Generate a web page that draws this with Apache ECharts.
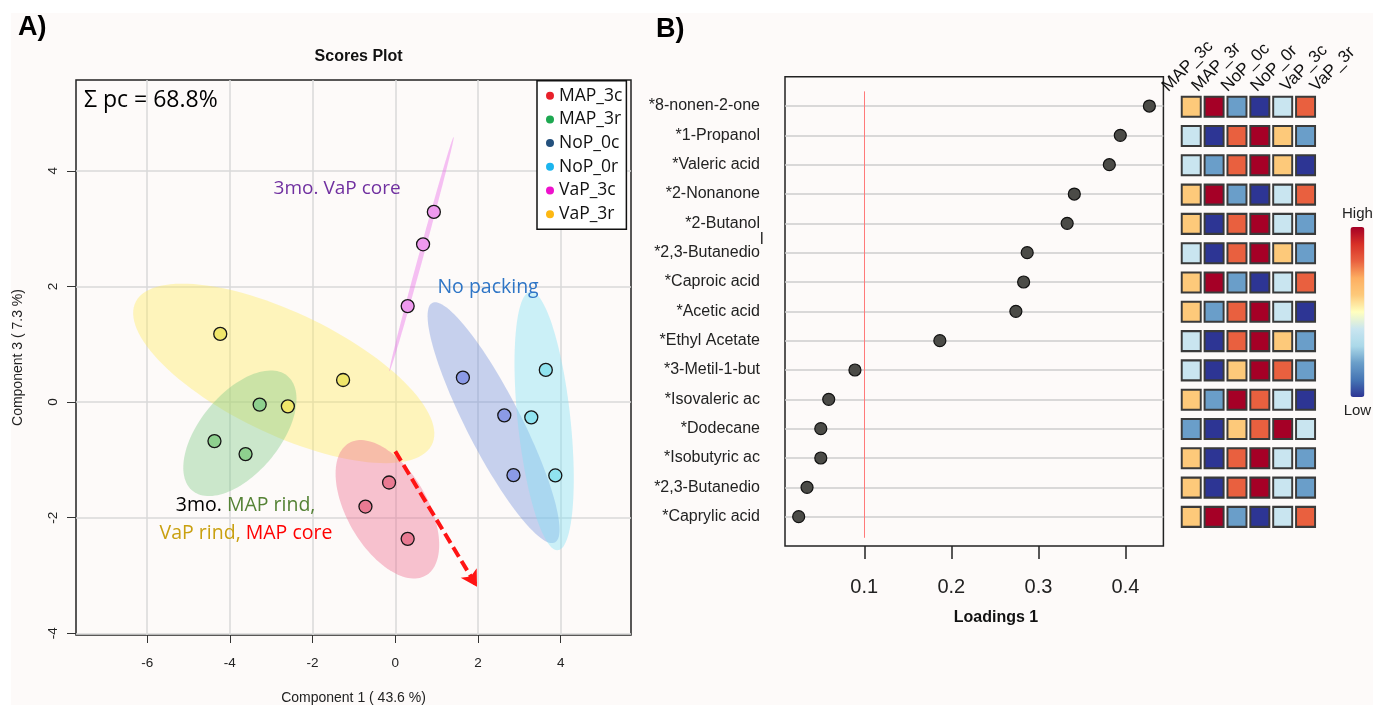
<!DOCTYPE html>
<html><head><meta charset="utf-8">
<script src="https://cdn.jsdelivr.net/npm/echarts@6/dist/echarts.min.js"></script>
<style>html,body{margin:0;padding:0;background:#fff}#c{width:1373px;height:705px}</style>
</head><body><div id="c"></div>
<script>
// ---------- DATA ----------
const groups = ['MAP_3c','MAP_3r','NoP_0c','NoP_0r','VaP_3c','VaP_3r'];
const MAP_3c = [[-0.150,-1.392],[-0.721,-1.808],[0.300,-2.367]];
const MAP_3r = [[-3.279,-0.045],[-4.372,-0.676],[-3.620,-0.901]];
const NoP_0c = [[1.635,0.423],[2.636,-0.231],[2.858,-1.265]];
const NoP_0r = [[3.640,0.555],[3.289,-0.265],[3.870,-1.270]];
const VaP_3c = [[0.933,3.288],[0.672,2.728],[0.300,1.659]];
const VaP_3r = [[-4.232,1.178],[-1.262,0.381],[-2.597,-0.075]];
const scoreTicksX = [-6,-4,-2,0,2,4];
const scoreTicksY = [-4,-2,0,2,4];
const arrowFrom = [0,-0.854];
const arrowTo = [1.976,-3.194];

const compounds = ['*8-nonen-2-one','*1-Propanol','*Valeric acid','*2-Nonanone','*2-Butanol','*2,3-Butanedio','*Caproic acid','*Acetic acid','*Ethyl Acetate','*3-Metil-1-but','*Isovaleric ac','*Dodecane','*Isobutyric ac','*2,3-Butanedio','*Caprylic acid'];
const loadings = [0.4274,0.394,0.3814,0.3412,0.333,0.2871,0.283,0.2741,0.1868,0.0893,0.0592,0.0501,0.0501,0.0343,0.0247];
const loadingTicks = [0.1,0.2,0.3,0.4];
const cutoff = 0.1;
// heat levels (1 = low ... 6 = high), rows = compounds, cols = groups
const heatLevels = [
 [4,6,2,1,3,5],
 [3,1,5,6,4,2],
 [3,2,5,6,4,1],
 [4,6,2,1,3,5],
 [4,1,5,6,3,2],
 [3,1,5,6,4,2],
 [4,6,2,1,3,5],
 [4,2,5,6,3,1],
 [3,1,5,6,4,2],
 [3,1,4,6,5,2],
 [4,2,6,5,3,1],
 [2,1,4,5,6,3],
 [4,1,5,6,3,2],
 [4,1,5,6,3,2],
 [4,6,2,1,3,5]
];

// ---------- STYLE ----------
const groupPts = {MAP_3c, MAP_3r, NoP_0c, NoP_0r, VaP_3c, VaP_3r};
const pointColor = {MAP_3c:'#E97A92', MAP_3r:'#8ED08E', NoP_0c:'#8B9AE6', NoP_0r:'#90E4F0', VaP_3c:'#EE99EE', VaP_3r:'#F0E66A'};
const ellColor = {MAP_3c:'rgba(238,107,143,0.4)', MAP_3r:'rgba(128,202,136,0.4)', NoP_0c:'rgba(115,145,221,0.4)', NoP_0r:'rgba(128,225,246,0.4)', VaP_3c:'rgba(233,110,234,0.42)', VaP_3r:'rgba(255,235,94,0.4)'};
const legendColor = {MAP_3c:'#E8202A', MAP_3r:'#1DA851', NoP_0c:'#24517D', NoP_0r:'#1BB5EE', VaP_3c:'#EE11CC', VaP_3r:'#FDB813'};
const ellOrder = ['VaP_3r','MAP_3r','MAP_3c','VaP_3c','NoP_0c','NoP_0r'];
const heatColors = ['#2D3594','#4575b4','#6A9EC9','#abd9e9','#C9E5F0','#ffffbf','#FDC97A','#fdae61','#E9603F','#d73027','#A50026'];
const SANS = 'Liberation Sans, Arial, sans-serif';
const CAL = 'Open Sans, Noto Sans, sans-serif';

// 95% data ellipse (chi-square, 2 df)
function ellipse(pts){
  const n = pts.length;
  const mx = pts.reduce((s,p)=>s+p[0],0)/n, my = pts.reduce((s,p)=>s+p[1],0)/n;
  let sxx=0, syy=0, sxy=0;
  pts.forEach(p=>{ sxx+=(p[0]-mx)**2; syy+=(p[1]-my)**2; sxy+=(p[0]-mx)*(p[1]-my); });
  sxx/=(n-1); syy/=(n-1); sxy/=(n-1);
  const tr = sxx+syy, det = sxx*syy-sxy*sxy;
  const d = Math.sqrt(Math.max(tr*tr/4-det,0));
  const l1 = tr/2+d, l2 = Math.max(tr/2-d,0);
  const ang = Math.abs(sxy)<1e-12 ? (sxx>=syy?0:Math.PI/2) : Math.atan2(l1-sxx, sxy);
  const k = Math.sqrt(5.991);
  const a = k*Math.sqrt(l1), b = k*Math.sqrt(l2);
  const out = [];
  for(let i=0;i<=120;i++){
    const t = i/120*2*Math.PI;
    out.push([mx + a*Math.cos(t)*Math.cos(ang) - b*Math.sin(t)*Math.sin(ang),
              my + a*Math.cos(t)*Math.sin(ang) + b*Math.sin(t)*Math.cos(ang)]);
  }
  return out;
}
const ellipses = ellOrder.map(g=>ellipse(groupPts[g]));

const nRows = compounds.length;
const rowPos = compounds.map((_,i)=>nRows-i);

const chart = echarts.init(document.getElementById('c'), null, {renderer:'canvas'});

const series = [];
series.push({
  type:'custom', name:'ellipses', xAxisIndex:0, yAxisIndex:0, z:1, silent:true, clip:true,
  data: ellOrder.map((g,i)=>[i,0]),
  renderItem:(params, api)=>{
    const gi = params.dataIndex;
    const pts = ellipses[gi].map(p=>api.coord(p));
    return {type:'polygon', shape:{points:pts}, style:{fill:ellColor[ellOrder[gi]], stroke:null}};
  },
  markLine:{
    silent:true, animation:false, symbol:['none','arrow'], symbolSize:[14,16],
    label:{show:false},
    lineStyle:{color:'#FF1414', width:4, type:[11,5]},
    data:[[{coord:arrowFrom},{coord:arrowTo}]]
  }
});
groups.forEach(g=>{
  series.push({
    type:'scatter', name:g, xAxisIndex:0, yAxisIndex:0, z:3,
    symbol:'circle', symbolSize:13,
    itemStyle:{color:pointColor[g], borderColor:'#151515', borderWidth:1.3, opacity:1},
    data: groupPts[g]
  });
});
series.push({
  type:'scatter', name:'loadings', xAxisIndex:1, yAxisIndex:1, z:3,
  symbol:'circle', symbolSize:12,
  itemStyle:{color:'#4B4B47', borderColor:'#111', borderWidth:1.2, opacity:1},
  data: loadings.map((v,i)=>[v,rowPos[i]]),
  markLine:{
    silent:true, animation:false, symbol:'none', label:{show:false},
    lineStyle:{color:'#FF7A7A', width:1, type:'solid'},
    data:[[{coord:[cutoff,0.28]},{coord:[cutoff,nRows+0.5]}]]
  }
});
const heatData = [];
heatLevels.forEach((row,ri)=>row.forEach((v,ci)=>heatData.push([ci,ri,v])));
series.push({
  type:'scatter', name:'heat', xAxisIndex:2, yAxisIndex:2, z:3,
  symbol:'rect', symbolSize:[19,20],
  itemStyle:{borderColor:'#3A3A3A', borderWidth:2, opacity:1},
  data: heatData
});
const heatIndex = series.length-1;

const colLabelGraphics = groups.map((g,i)=>({
  type:'text', x:1171+i*29.6, y:95, rotation:Math.PI/4,
  style:{text:g, font:'17px '+SANS, fill:'#111', textAlign:'left', textVerticalAlign:'bottom'}
}));

const option = {
  animation:false,
  backgroundColor:'#FFFFFF',
  textStyle:{fontFamily:SANS},
  title:{text:'Scores Plot', left:353.6, top:44, textAlign:'center',
    textStyle:{fontSize:16, fontWeight:'bold', color:'#111', fontFamily:SANS}},
  legend:{
    orient:'vertical', left:537, top:80.7, icon:'circle', itemWidth:8, itemHeight:8,
    itemGap:3.7, padding:[5,4,5,9], borderColor:'#111', borderWidth:1.5, backgroundColor:'#FFFFFF',
    textStyle:{fontSize:17.5, fontFamily:CAL, color:'#111', lineHeight:20},
    selectedMode:false,
    data: groups.map(g=>({name:g, itemStyle:{color:legendColor[g], borderWidth:0}}))
  },
  grid:[
    {left:76, top:80, width:555, height:555, show:true, borderColor:'#222', borderWidth:1.5, backgroundColor:'transparent', outerBoundsMode:'none', containLabel:false},
    {left:785, top:76.7, width:378.4, height:469.3, show:true, borderColor:'#222', borderWidth:1.5, backgroundColor:'transparent', outerBoundsMode:'none', containLabel:false},
    {left:1179.8, top:92.05, width:137.2, height:439.5, show:false, outerBoundsMode:'none', containLabel:false}
  ],
  xAxis:[
    {type:'value', gridIndex:0, min:-7.72, max:5.70,
     name:'Component 1 ( 43.6 %)', nameLocation:'middle', nameGap:56,
     nameTextStyle:{fontSize:14, color:'#222', fontFamily:SANS},
     axisLine:{show:false, onZero:false},
     axisTick:{show:true, length:8, customValues:scoreTicksX, lineStyle:{color:'#333', width:1}},
     axisLabel:{customValues:scoreTicksX, fontSize:13.5, color:'#222', margin:21},
     splitLine:{show:true, lineStyle:{color:'#D9D9D9', width:1.5}}},
    {type:'value', gridIndex:1, min:0.009, max:0.4435,
     axisLine:{show:false, onZero:false},
     axisTick:{show:true, length:13, customValues:loadingTicks, lineStyle:{color:'#222', width:1.5}},
     axisLabel:{customValues:loadingTicks, fontSize:20, color:'#222', margin:31},
     splitLine:{show:false}},
    {type:'category', gridIndex:2, data:groups, show:false}
  ],
  yAxis:[
    {type:'value', gridIndex:0, min:-4.03, max:5.57,
     name:'Component 3 ( 7.3 %)', nameLocation:'middle', nameGap:51,
     nameTextStyle:{fontSize:14, color:'#222', fontFamily:SANS},
     axisLine:{show:false, onZero:false},
     axisTick:{show:true, length:9, customValues:scoreTicksY, lineStyle:{color:'#333', width:1}},
     axisLabel:{customValues:scoreTicksY, rotate:90, fontSize:13.5, color:'#222', margin:16},
     splitLine:{show:true, lineStyle:{color:'#D9D9D9', width:1.5}}},
    {type:'value', gridIndex:1, min:0, max:nRows+1,
     axisLine:{show:false, onZero:false},
     axisTick:{show:false, customValues:rowPos},
     axisLabel:{customValues:rowPos, fontSize:16, color:'#222', margin:25,
       formatter:v=>compounds[nRows-Math.round(v)]},
     splitLine:{show:true, lineStyle:{color:'#CCCCCC', width:1.5}}},
    {type:'category', gridIndex:2, data:compounds.map((_,i)=>String(i)), inverse:true, show:false}
  ],
  visualMap:{
    type:'continuous', seriesIndex:heatIndex, dimension:2, min:1, max:6,
    calculable:false, orient:'vertical', left:1327, top:191,
    itemWidth:14, itemHeight:170, text:['High','Low'], textGap:6,
    textStyle:{fontSize:15, color:'#222', fontFamily:SANS},
    inRange:{color:heatColors}
  },
  graphic:[
    {type:'rect', z:-100, shape:{x:11, y:13, width:1362, height:692}, style:{fill:'#FDFAF9'}, silent:true},
    {type:'text', x:18, y:28, style:{text:'A)', font:'bold 27px '+SANS, fill:'#000', textVerticalAlign:'middle'}},
    {type:'text', x:656, y:30, style:{text:'B)', font:'bold 27px '+SANS, fill:'#000', textVerticalAlign:'middle'}},
    {type:'text', x:84, y:100, z:10, style:{text:'\u03A3 pc = 68.8%', font:'23px '+CAL, fill:'#000', textVerticalAlign:'middle'}},
    {type:'text', x:273.6, y:188.3, z:10, style:{text:'3mo. VaP core', font:'19px '+CAL, fill:'#7030A0', textVerticalAlign:'middle'}},
    {type:'text', x:437.4, y:287.3, z:10, style:{text:'No packing', font:'19.5px '+CAL, fill:'#2E75C6', textVerticalAlign:'middle'}},
    {type:'text', x:175.8, y:505.7, z:10, style:{text:'{a|3mo. }{b|MAP rind,}', font:'19.5px '+CAL, textVerticalAlign:'middle',
      rich:{a:{fill:'#000', font:'19.5px '+CAL}, b:{fill:'#548235', font:'19.5px '+CAL}}}},
    {type:'text', x:159.6, y:533.3, z:10, style:{text:'{a|VaP rind,}{b| MAP core}', font:'19.5px '+CAL, textVerticalAlign:'middle',
      rich:{a:{fill:'#C9A010', font:'19.5px '+CAL}, b:{fill:'#FF0000', font:'19.5px '+CAL}}}},
    {type:'text', x:996, y:617.7, style:{text:'Loadings 1', font:'bold 16px '+SANS, fill:'#111', textAlign:'center', textVerticalAlign:'middle'}},
    {type:'text', x:760, y:240, style:{text:'l', font:'16px '+SANS, fill:'#222', textVerticalAlign:'middle'}},
    ...colLabelGraphics
  ],
  series
};
chart.setOption(option);
</script></body></html>
